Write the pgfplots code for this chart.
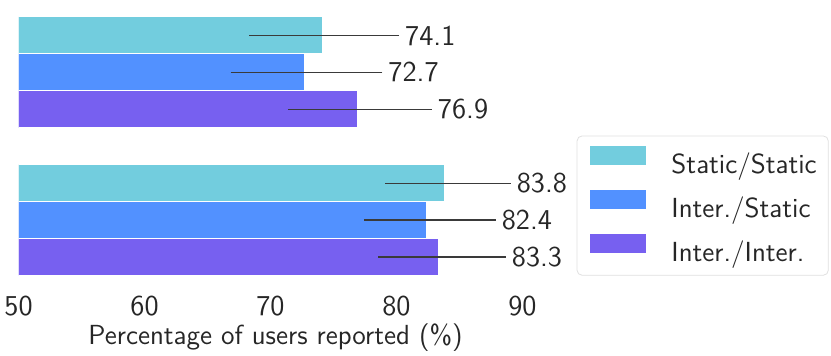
\documentclass[border=0pt]{standalone}
\usepackage{pgfplots}
\pgfplotsset{compat=1.18}
\renewcommand{\familydefault}{\sfdefault}

\definecolor{barcyan}{HTML}{72CDDE}
\definecolor{barblue}{HTML}{5291FF}
\definecolor{barpurple}{HTML}{7760F0}
\definecolor{txtgray}{HTML}{262626}
\definecolor{errgray}{HTML}{3A3A3A}

\begin{document}
\fontsize{14.4}{17}\selectfont
\begin{tikzpicture}
  % fixed frame so the page has the reference's proportions
  \useasboundingbox (-9.25pt,-34.25pt) rectangle (406.25pt,143.25pt);

  \begin{axis}[
    scale only axis,
    width=252pt,
    height=140.3pt,
    xmin=50, xmax=90,
    ymin=-0.45, ymax=1.45,
    xtick={50,60,70,80,90},
    ytick=\empty,
    axis line style={draw=none},
    tick style={draw=none},
    major tick length=0pt,
    /pgf/number format/assume math mode=true,
    tick label style={text=txtgray},
    xlabel={Percentage of users reported (\%)},
    xlabel style={text=txtgray, yshift=6pt, xshift=2.5pt,
      font=\fontsize{13.8}{16}\selectfont},
    bar width=0.25,
    legend cell align=left,
    legend image code/.code={
      \fill[#1, sharp corners] (0pt,0.15pt) rectangle (28.7pt,9.85pt);
    },
    legend style={
      at={(1.1075,0.538)},
      anchor=north west,
      draw=black!12,
      rounded corners=2.5pt,
      inner xsep=5.8pt,
      inner ysep=4.6pt,
      row sep=5.7pt,
      text=txtgray,
      font=\fontsize{13.8}{16}\selectfont,
      nodes={inner sep=0pt},
      /tikz/every odd column/.append style={column sep=12.2pt}
    },
    error bars/error bar style={errgray, line width=0.6pt},
  ]

    \addplot[
      xbar, bar shift=0pt,
      fill=barcyan, draw=white, line width=0.5pt,
      error bars/.cd, x dir=both, x explicit, error mark=none
    ] coordinates {
      (74.1,1.25) -= (5.8,0) += (6.1,0)
      (83.8,0.25) -= (4.7,0) += (5.26,0)
    };
    \addlegendentry{Static/Static}

    \addplot[
      xbar, bar shift=0pt,
      fill=barblue, draw=white, line width=0.5pt,
      error bars/.cd, x dir=both, x explicit, error mark=none
    ] coordinates {
      (72.7,1.0) -= (5.86,0) += (6.17,0)
      (82.4,0.0) -= (4.96,0) += (5.47,0)
    };
    \addlegendentry{Inter./Static}

    \addplot[
      xbar, bar shift=0pt,
      fill=barpurple, draw=white, line width=0.5pt,
      error bars/.cd, x dir=both, x explicit, error mark=none
    ] coordinates {
      (76.9,0.75) -= (5.53,0) += (5.9,0)
      (83.3,-0.25) -= (4.74,0) += (5.37,0)
    };
    \addlegendentry{Inter./Inter.}

    % value labels at the right end of each line
    \addplot[
      draw=none, mark=none, forget plot,
      nodes near coords,
      point meta=explicit symbolic,
      every node near coord/.append style={
        anchor=west, inner sep=0pt, xshift=2.9pt, text=txtgray
      }
    ] coordinates {
      (80.2,1.25) [74.1]
      (78.87,1.0) [72.7]
      (82.8,0.75) [76.9]
      (89.06,0.25) [83.8]
      (87.87,0.0) [82.4]
      (88.67,-0.25) [83.3]
    };

  \end{axis}
\end{tikzpicture}
\end{document}
